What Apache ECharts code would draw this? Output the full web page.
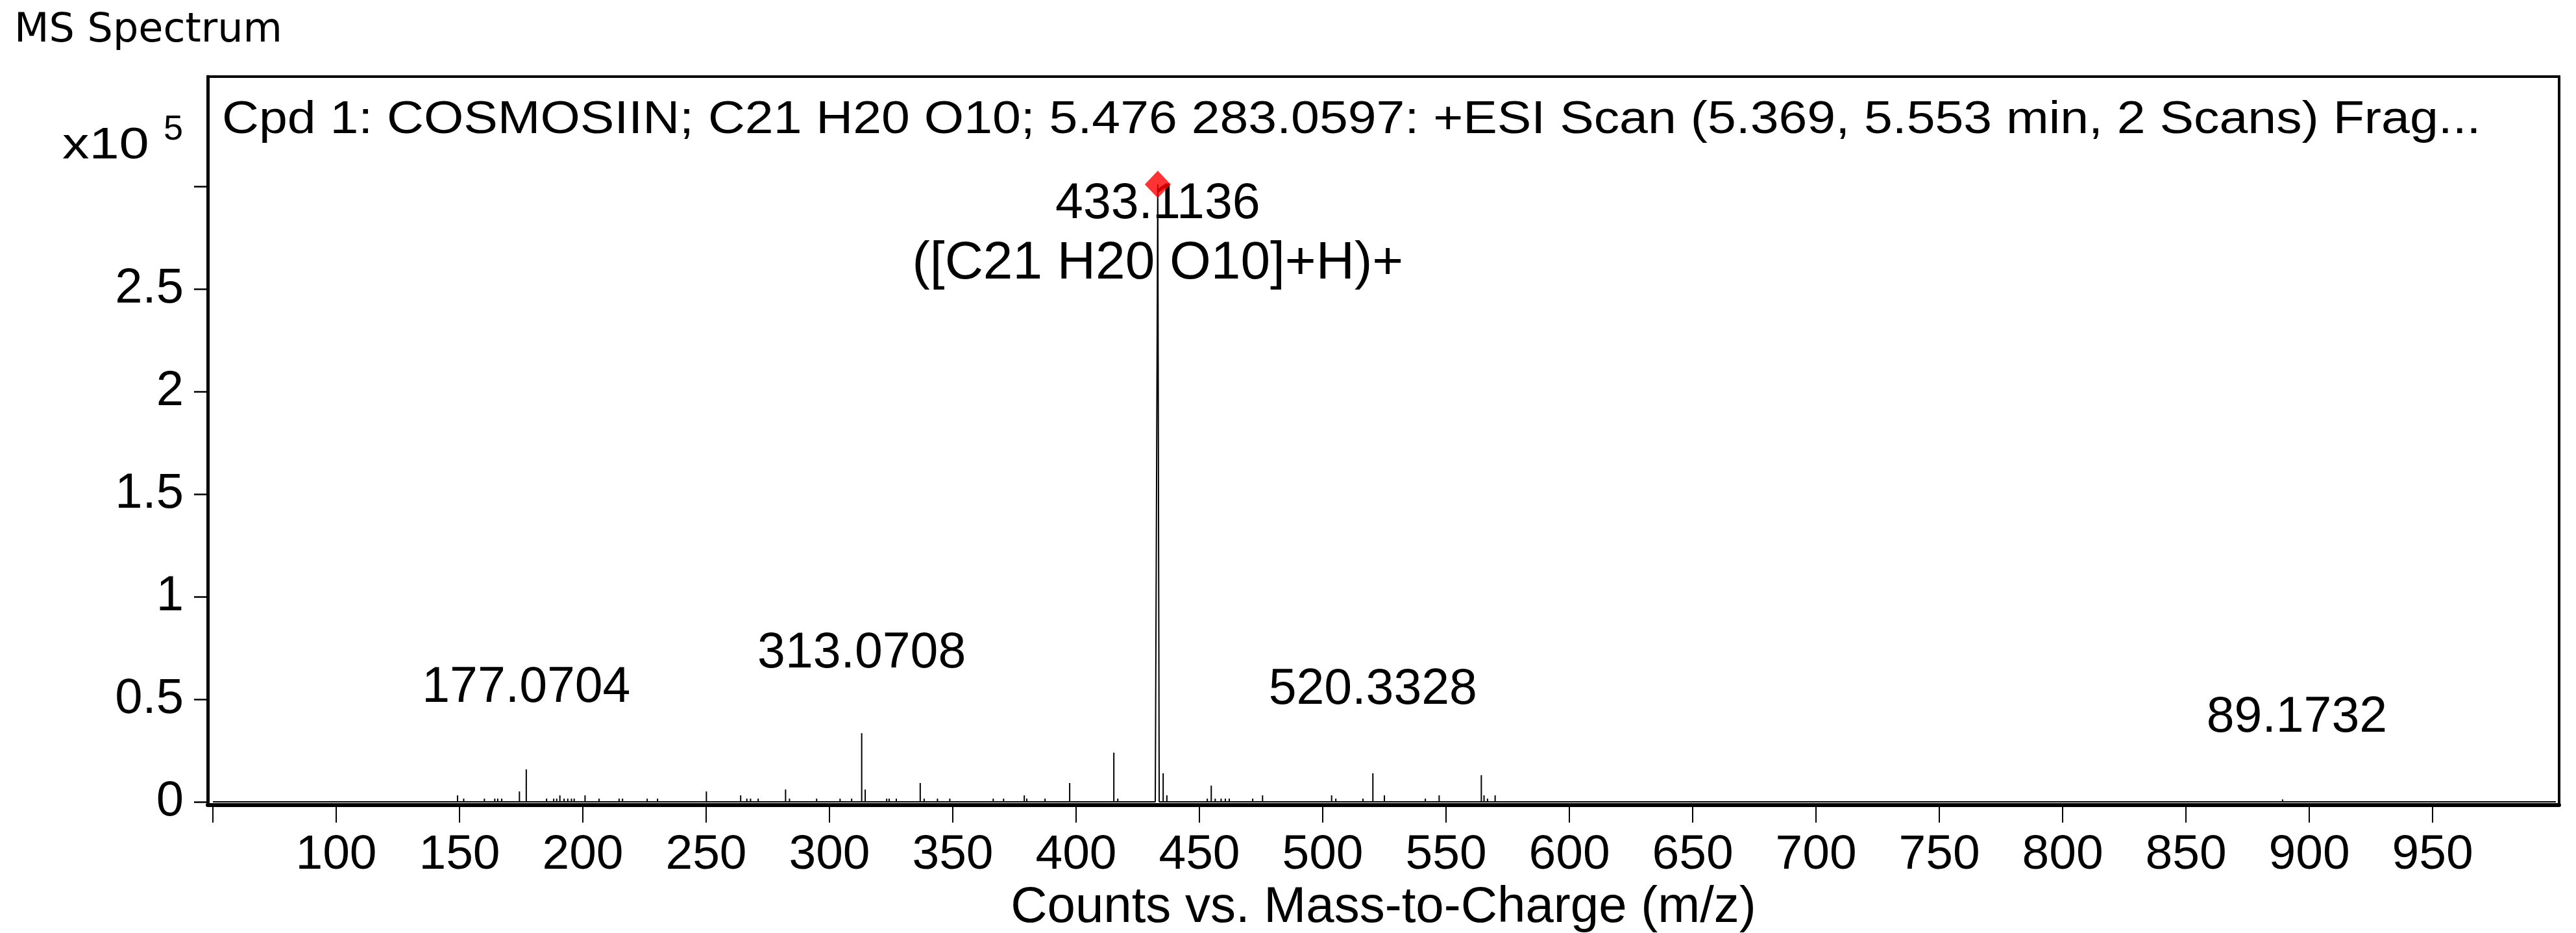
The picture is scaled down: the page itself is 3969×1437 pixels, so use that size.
<!DOCTYPE html>
<html><head><meta charset="utf-8">
<script src="https://cdn.jsdelivr.net/npm/echarts@6/dist/echarts.min.js"></script>
<style>html,body{margin:0;padding:0;background:#fff}#c{width:3969px;height:1437px}</style>
</head><body><div id="c"></div>
<script>
// ---- data ----
const peakMz = [149.2,151.7,160.1,164.3,165.5,167.1,174.3,177.0704,185.3,188.2,189.4,190.7,192.4,193.9,195.4,196.5,200.9,206.6,214.7,216.1,226.1,230.3,250.1,264.0,266.5,268.0,271.1,282.2,283.8,294.8,304.3,309.0,313.0708,314.5,323.2,324.2,327.1,336.8,338.4,343.8,348.8,366.4,370.6,379.0,380.0,387.4,397.4,415.3,416.9,435.3,436.8,453.2,454.8,456.4,458.8,460.5,462.1,471.6,475.6,503.6,505.3,516.3,520.3328,525.0,541.6,547.2,564.3,565.4,566.8,569.9,889.1732];
const peakCounts = [3200,1600,1600,1600,1600,1600,5100,15800,1600,1600,1600,3200,1600,1600,1600,1600,3200,1600,1600,1600,1600,1600,5100,3200,1600,1600,1600,6000,1600,1600,1600,1600,33500,6000,1600,1600,1600,9200,1600,1600,1600,1600,1600,3200,1600,1600,9200,24000,1600,13900,3200,1600,7900,1600,1600,1600,1600,1600,3200,3200,1600,1600,13900,3200,1600,3200,13000,3200,1600,3200,1200];
// main (base) peak drawn as a narrow profile
const basePeakMz = [432.1, 433.1136, 433.7];
const basePeakCounts = [0, 301000, 0];
const scanRange = [50, 1000];
const precursorMz = 433.1136;
const precursorCounts = 301000;
const annotationMz = [177.0704, 313.0708, 433.1136, 520.3328, 889.1732];
const annotationText = ['177.0704', '313.0708', '433.1136', '520.3328', '89.1732'];
const annotationSubText = ['', '', '([C21 H20 O10]+H)+', '', ''];
const xTickValues = [50,100,150,200,250,300,350,400,450,500,550,600,650,700,750,800,850,900,950];
const xLabelValues = [100,150,200,250,300,350,400,450,500,550,600,650,700,750,800,850,900,950];
const yTickValues = [0,50000,100000,150000,200000,250000,300000];
const yLabelValues = [0,50000,100000,150000,200000,250000];
const headerText = 'Cpd 1: COSMOSIIN; C21 H20 O10; 5.476 283.0597: +ESI Scan (5.369, 5.553 min, 2 Scans) Frag...';

// ---- layout (not data) ----
const annotationLevel = [55500, 72200, 276800, 54500, 40800];
const annotationShift = [0, 0, 0, 0, 22];

// build the stick spectrum
const pts = [];
const peaks = peakMz.map((m, i) => ({ m, c: peakCounts[i] }));
peaks.sort((a, b) => a.m - b.m);
pts.push([scanRange[0], 0]);
let baseInserted = false;
for (const p of peaks) {
  if (!baseInserted && p.m > basePeakMz[0]) {
    basePeakMz.forEach((m, i) => pts.push([m, basePeakCounts[i]]));
    baseInserted = true;
  }
  pts.push([p.m, 0], [p.m, p.c], [p.m, 0]);
}
pts.push([scanRange[1], 0]);

const F = '"Liberation Sans", Arial, sans-serif';
const chart = echarts.init(document.getElementById('c'), null, { renderer: 'canvas' });
chart.setOption({
  animation: false,
  backgroundColor: '#fff',
  grid: { left: 320, right: 26, top: 118, bottom: 197, show: true, borderColor: '#000', borderWidth: 4, outerBoundsMode: 'none' },
  xAxis: {
    type: 'value', min: 47.9, max: 1001.3,
    axisLine: { onZero: false, lineStyle: { color: '#000', width: 6 } },
    axisTick: { show: true, length: 27, customValues: xTickValues, lineStyle: { color: '#000', width: 2 } },
    axisLabel: { customValues: xLabelValues, color: '#000', fontFamily: F, fontSize: 75, margin: 40 },
    splitLine: { show: false },
    name: 'Counts vs. Mass-to-Charge (m/z)', nameLocation: 'middle', nameGap: 110,
    nameTextStyle: { color: '#000', fontFamily: F, fontSize: 78 }
  },
  yAxis: {
    type: 'value', min: -1580, max: 353500,
    axisLine: { onZero: false, lineStyle: { color: '#000', width: 5 } },
    axisTick: { show: true, length: 21, customValues: yTickValues, lineStyle: { color: '#000', width: 2.5 } },
    axisLabel: { customValues: yLabelValues, color: '#000', fontFamily: F, fontSize: 76, margin: 37,
      formatter: v => String(+(v / 100000).toFixed(1)) },
    splitLine: { show: false }
  },
  graphic: [
    { type: 'text', x: 22, y: 48, style: { x: 0, y: 0, text: 'MS Spectrum', fontFamily: '"DejaVu Sans", sans-serif', fontSize: 62, fill: '#000', textVerticalAlign: 'middle' } },
    { type: 'text', x: 96, y: 225, scaleX: 1.22, style: { x: 0, y: 0, text: 'x10', fontFamily: F, fontSize: 68, fill: '#000', textVerticalAlign: 'middle' } },
    { type: 'text', x: 252, y: 200, style: { x: 0, y: 0, text: '5', fontFamily: F, fontSize: 54, fill: '#000', textVerticalAlign: 'middle' } },
    { type: 'text', x: 342, y: 185, scaleX: 1.11, style: { x: 0, y: 0, text: headerText, fontFamily: F, fontSize: 71, fill: '#000', textVerticalAlign: 'middle' } }
  ],
  series: [
    { type: 'line', data: pts, symbol: 'none', lineStyle: { color: '#000', width: 2 }, z: 2, clip: true },
    { type: 'scatter', data: [[precursorMz, precursorCounts]], symbol: 'diamond', symbolSize: [40, 42],
      itemStyle: { color: '#ff0000' }, z: 5 },
    { type: 'scatter', symbolSize: 0, z: 4, itemStyle: { color: '#000', opacity: 1 },
      data: annotationMz.map((m, i) => ({ value: [m, annotationLevel[i]],
        label: { show: true, position: [0, 0], align: 'center', verticalAlign: 'middle', offset: [annotationShift[i], 0],
          formatter: annotationSubText[i] ? '{a|' + annotationText[i] + '}\n{b|' + annotationSubText[i] + '}' : '{a|' + annotationText[i] + '}',
          textBorderWidth: 0, color: '#000', opacity: 1,
          rich: { a: { color: '#000', fontFamily: F, fontSize: 77, lineHeight: 92, textBorderWidth: 0 },
                  b: { color: '#000', fontFamily: F, fontSize: 82, lineHeight: 92, textBorderWidth: 0 } } } })) }
  ]
});
</script></body></html>
